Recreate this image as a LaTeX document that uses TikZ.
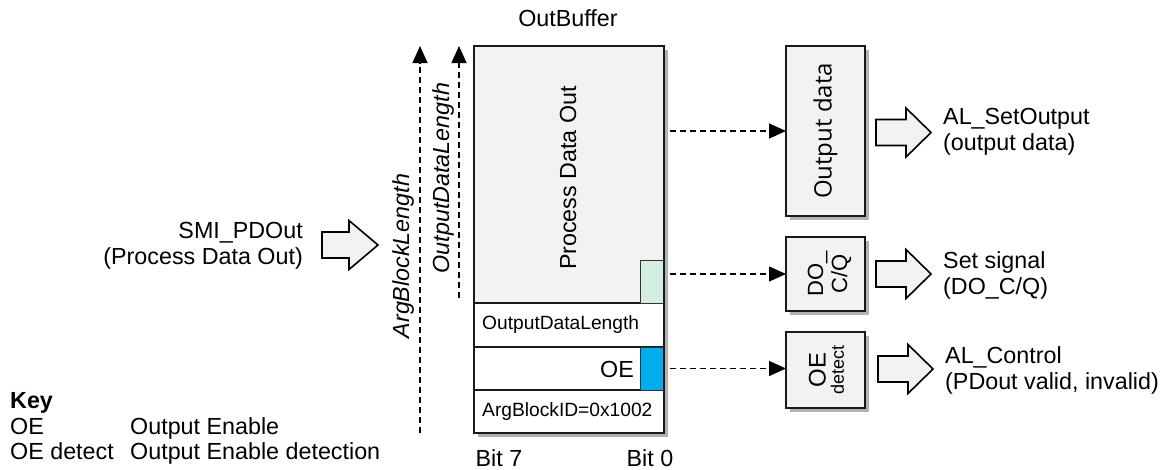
\documentclass[tikz,border=0pt]{standalone}
\usepackage{fontspec}
\setmainfont{Liberation Sans}
\newfontfamily\segoe{Open Sans}
\usetikzlibrary{shadows,arrows.meta}
\definecolor{boxgray}{HTML}{F2F2F2}
\definecolor{pdgreen}{HTML}{D3EEDF}
\definecolor{oeblue}{HTML}{00AEEF}
\newcommand\fatarr[4]{%
  \draw[fat] (#1,#2-13) -- (#1+#4,#2-13) -- (#1+#4,#2-24.5) -- (#1+#3,#2) -- (#1+#4,#2+24.5) -- (#1+#4,#2+13) -- (#1,#2+13) -- cycle;}
\tikzset{bigtip/.tip={Triangle[length=17pt,width=15pt]}}
\begin{document}
\begin{tikzpicture}[x=1pt,y=-1pt,
  cell/.style={draw=black!90,line width=1.9pt,anchor=north west,inner sep=0pt,outer sep=0pt},
  smallcell/.style={draw=black!80,line width=1pt,anchor=north west,inner sep=0pt,outer sep=0pt},
  shadowed/.style={drop shadow={shadow xshift=4pt,shadow yshift=-4pt,fill=black,opacity=0.3}},
  dasharrow/.style={dash pattern=on 6pt off 4pt, line width=1.4pt, -bigtip},
  fat/.style={draw=black,fill=boxgray,line width=1.6pt,line join=miter},
  txt/.style={font=\fontsize{23.3}{26}\selectfont, inner sep=0pt},
  small/.style={font=\fontsize{19.2}{22}\selectfont, inner sep=0pt},
]
\useasboundingbox (0,0) rectangle (1169,469);

% buffer
\node[cell,fill=boxgray,minimum width=190pt,minimum height=387pt,shadowed] (buf) at (474,46) {};
\node[cell,fill=boxgray,minimum width=190pt,minimum height=257pt] (pdo) at (474,46) {};
\node[cell,fill=white,minimum width=190pt,minimum height=44pt] (odl) at (474,303) {};
\node[cell,fill=white,minimum width=190pt,minimum height=43pt] (oe) at (474,347) {};
\node[cell,fill=white,minimum width=190pt,minimum height=43pt] (abid) at (474,390) {};
\node[smallcell,fill=pdgreen,minimum width=24pt,minimum height=43pt] (grn) at (640,260) {};
\node[smallcell,fill=oeblue,minimum width=24pt,minimum height=43pt] (blu) at (640,347) {};
\draw[line width=1.9pt,draw=black!90] (pdo.north west) rectangle (abid.south east);

\node[txt] (title) at (568,18) {OutBuffer};
\node[txt,rotate=90] (pdotxt) at (568,178) {Process Data Out};
\node[small,anchor=west] (odltxt) at (482,325) {OutputDataLength};
\node[txt,anchor=east] (oetxt) at (634,369) {OE};
\node[small,anchor=west] (abidtxt) at (482,412) {ArgBlockID=0x1002};
\node[txt] (bit7) at (499,458) {Bit 7};
\node[txt] (bit0) at (650,458) {Bit 0};

% length arrows
\coordinate (ab0) at (420,433);
\coordinate (ab1) at (420,46);
\draw[dasharrow] (ab0) -- (ab1);
\coordinate (od0) at (459,298);
\coordinate (od1) at (459,46);
\draw[dasharrow] (od0) -- (od1);
\node[txt,rotate=90,font=\fontsize{23.3}{26}\selectfont\itshape] (ablen) at (403,256) {ArgBlockLength};
\node[txt,rotate=90,font=\fontsize{23.3}{26}\selectfont\itshape] (odlen) at (443,178) {OutputDataLength};

% right boxes
\node[cell,fill=boxgray,minimum width=79pt,minimum height=170pt,shadowed] (outdata) at (786,46) {};
\node[rotate=90,inner sep=0pt,font=\segoe\fontsize{24}{28}\selectfont] (outdatatxt) at (outdata.center) {Output data};
\node[cell,fill=boxgray,minimum width=79pt,minimum height=74pt,shadowed] (docq) at (786,237) {};
\node[rotate=90,inner sep=0pt,align=center,font=\fontsize{22}{21}\selectfont] (docqtxt) at ([xshift=4pt]docq.center) {DO\_\\[3pt]C/Q};
\node[cell,fill=boxgray,minimum width=79pt,minimum height=76pt,shadowed] (oedet) at (786,332) {};
\node[rotate=90,inner sep=0pt,align=center] (oedettxt) at ([xshift=1pt]oedet.center) {{\fontsize{24}{22}\selectfont OE}\\[4pt]{\fontsize{18}{16}\selectfont detect}};

% dashed connectors
\draw[dasharrow] ([xshift=6pt]pdo.east |- outdata.west) -- (outdata.west);
\draw[dasharrow] ([xshift=6pt]grn.east |- docq.west) -- (docq.west);
\draw[dasharrow] ([xshift=6pt]blu.east) -- (blu.east -| oedet.west);

% block arrows
\fatarr{322}{245}{56}{27}
\fatarr{876}{132.5}{55}{30}
\fatarr{876}{274}{55}{30}
\fatarr{878}{369}{55}{30}

% texts
\node[txt,align=right,anchor=east] (smi) at (303,246) {SMI\_PDOut\\(Process Data Out)};
\node[txt,align=left,anchor=west] (alset) at (943,132) {AL\_SetOutput\\(output data)};
\node[txt,align=left,anchor=west] (setsig) at (943,275) {Set signal\\(DO\_C/Q)};
\node[txt,align=left,anchor=west] (alctl) at (945,370) {AL\_Control\\(PDout valid, invalid)};

% key
\node[txt,anchor=base west,font=\fontsize{23.3}{26}\selectfont\bfseries] (key) at (10,408) {Key};
\node[txt,anchor=base west] (k1a) at (10,434) {OE};
\node[txt,anchor=base west] (k1b) at (130,434) {Output Enable};
\node[txt,anchor=base west] (k2a) at (10,459) {OE detect};
\node[txt,anchor=base west] (k2b) at (130,459) {Output Enable detection};
\end{tikzpicture}
\end{document}
